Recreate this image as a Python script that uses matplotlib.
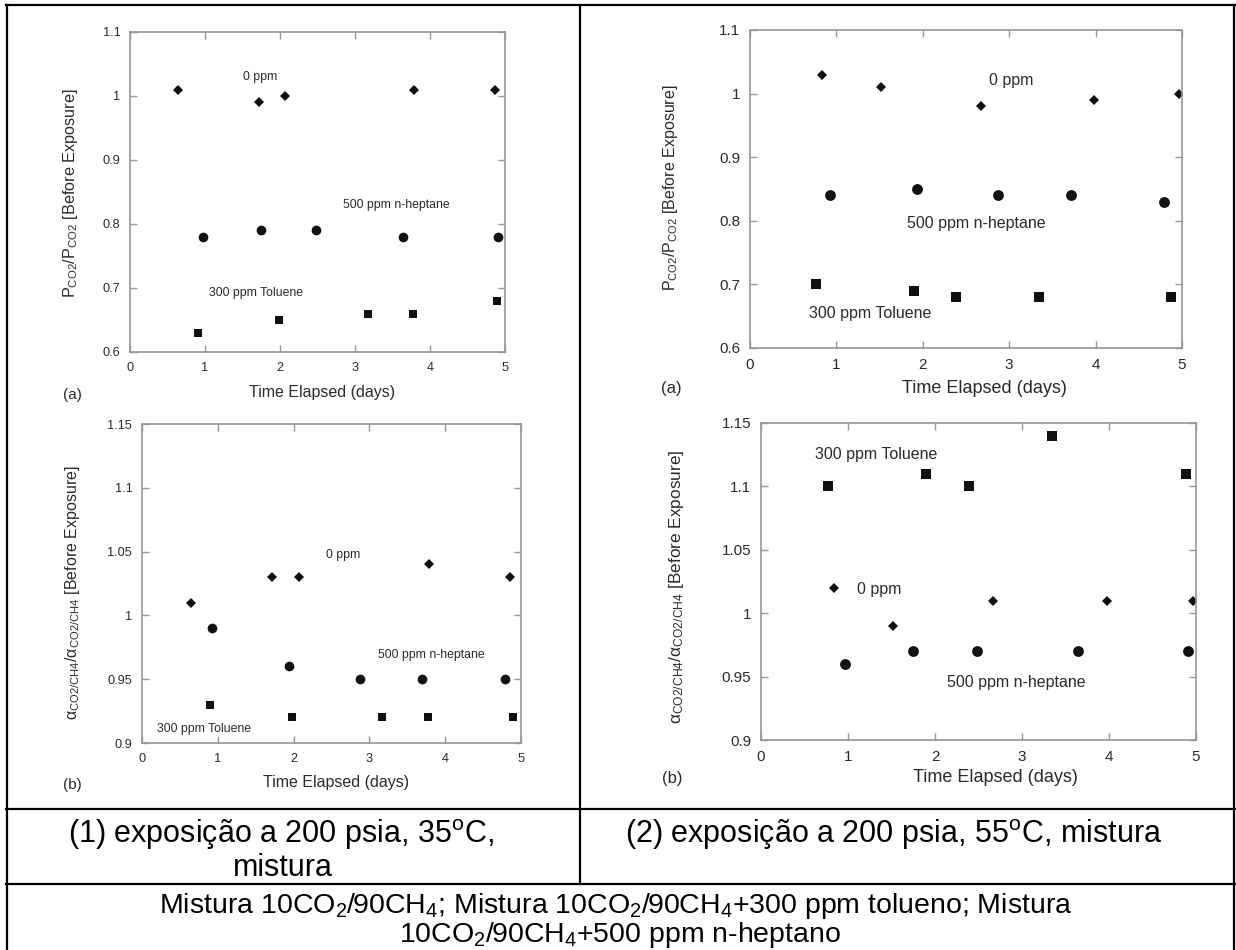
import matplotlib
matplotlib.use("Agg")
import matplotlib.pyplot as plt
from matplotlib.lines import Line2D

plt.rcParams["font.family"] = ["Liberation Sans", "DejaVu Sans"]
plt.rcParams["mathtext.fontset"] = "custom"
plt.rcParams["mathtext.rm"] = "Liberation Sans"
plt.rcParams["mathtext.it"] = "Liberation Sans:italic"

W, H = 1236, 950

# -----------------------------
# Data
# -----------------------------
# (1) 200 psia, 35 C - permeance ratio
p35_x_0ppm = [0.64, 1.72, 2.06, 3.78, 4.86]
p35_y_0ppm = [1.01, 0.99, 1.00, 1.01, 1.01]
p35_x_hep = [0.97, 1.75, 2.48, 3.64, 4.91]
p35_y_hep = [0.78, 0.79, 0.79, 0.78, 0.78]
p35_x_tol = [0.90, 1.99, 3.17, 3.77, 4.89]
p35_y_tol = [0.63, 0.65, 0.66, 0.66, 0.68]

# (2) 200 psia, 55 C - permeance ratio
p55_x_0ppm = [0.83, 1.52, 2.67, 3.98, 4.97]
p55_y_0ppm = [1.03, 1.01, 0.98, 0.99, 1.00]
p55_x_hep = [0.93, 1.93, 2.87, 3.71, 4.79]
p55_y_hep = [0.84, 0.85, 0.84, 0.84, 0.83]
p55_x_tol = [0.76, 1.90, 2.38, 3.34, 4.87]
p55_y_tol = [0.70, 0.69, 0.68, 0.68, 0.68]

# (1) 35 C - selectivity ratio
a35_x_0ppm = [0.64, 1.71, 2.07, 3.78, 4.86]
a35_y_0ppm = [1.01, 1.03, 1.03, 1.04, 1.03]
a35_x_hep = [0.93, 1.94, 2.87, 3.70, 4.79]
a35_y_hep = [0.99, 0.96, 0.95, 0.95, 0.95]
a35_x_tol = [0.90, 1.98, 3.16, 3.77, 4.89]
a35_y_tol = [0.93, 0.92, 0.92, 0.92, 0.92]

# (2) 55 C - selectivity ratio
a55_x_0ppm = [0.84, 1.52, 2.67, 3.98, 4.97]
a55_y_0ppm = [1.02, 0.99, 1.01, 1.01, 1.01]
a55_x_hep = [0.96, 1.75, 2.48, 3.64, 4.91]
a55_y_hep = [0.96, 0.97, 0.97, 0.97, 0.97]
a55_x_tol = [0.77, 1.90, 2.39, 3.34, 4.88]
a55_y_tol = [1.10, 1.11, 1.10, 1.14, 1.11]

x_ticks = [0, 1, 2, 3, 4, 5]
x_ticklabels = ["0", "1", "2", "3", "4", "5"]
p_ticks = [0.6, 0.7, 0.8, 0.9, 1.0, 1.1]
p_ticklabels = ["0.6", "0.7", "0.8", "0.9", "1", "1.1"]
a_ticks = [0.9, 0.95, 1.0, 1.05, 1.1, 1.15]
a_ticklabels = ["0.9", "0.95", "1", "1.05", "1.1", "1.15"]

lbl_0ppm = "0 ppm"
lbl_hep = "500 ppm n-heptane"
lbl_tol = "300 ppm Toluene"

ylabel_p = r"P$_{\mathrm{CO2}}$/P$_{\mathrm{CO2}}$ [Before Exposure]"
ylabel_a = r"α$_{\mathrm{CO2/CH4}}$/α$_{\mathrm{CO2/CH4}}$ [Before Exposure]"
xlabel = "Time Elapsed (days)"

caption1 = "(1) exposição a 200 psia, 35$^{\\mathrm{o}}$C,"
caption1b = "mistura"
caption2 = "(2) exposição a 200 psia, 55$^{\\mathrm{o}}$C, mistura"
footer1 = ("Mistura 10CO$_2$/90CH$_4$; Mistura 10CO$_2$/90CH$_4$+300 ppm tolueno; "
           "Mistura")
footer2 = "10CO$_2$/90CH$_4$+500 ppm n-heptano"


def fx(x):
    return x / W


def fy(y):
    return 1 - y / H


def rect(x0, y0, x1, y1):
    return [x0 / W, 1 - y1 / H, (x1 - x0) / W, (y1 - y0) / H]


fig = plt.figure(figsize=(W / 100, H / 100), dpi=100)
fig.patch.set_facecolor("white")

SPINE = "#969696"
TXT = "#2a2a2a"
MK = "#111111"


def panel(box, series, ylim, yticks, yticklabels, notes, fs_tick, fs_note):
    ax = fig.add_axes(rect(*box))
    for (xs, ys, marker, size) in series:
        ax.plot(xs, ys, linestyle="none", marker=marker, color=MK,
                markersize=size, markeredgewidth=0)
    ax.set_xlim(0, 5)
    ax.set_ylim(*ylim)
    ax.set_xticks(x_ticks, x_ticklabels)
    ax.set_yticks(yticks, yticklabels)
    ax.tick_params(direction="in", length=5, width=1, color=SPINE,
                   top=True, right=True, labelsize=fs_tick, labelcolor=TXT,
                   pad=7)
    for s in ax.spines.values():
        s.set_color(SPINE)
        s.set_linewidth(1.2)
    for (tx, ty, txt) in notes:
        ax.text(tx, ty, txt, ha="center", va="center", fontsize=fs_note,
                color=TXT)
    return ax


# -----------------------------
# Panel (1a)
# -----------------------------
panel((130, 32, 505, 352),
      [(p35_x_0ppm, p35_y_0ppm, "D", 5.0),
       (p35_x_hep, p35_y_hep, "o", 7.0),
       (p35_x_tol, p35_y_tol, "s", 6.3)],
      (0.6, 1.1), p_ticks, p_ticklabels,
      [(1.73, 1.03, lbl_0ppm), (3.55, 0.829, lbl_hep), (1.68, 0.692, lbl_tol)],
      fs_tick=9.2, fs_note=8.8)

# -----------------------------
# Panel (2a)
# -----------------------------
panel((750, 30, 1182, 348),
      [(p55_x_0ppm, p55_y_0ppm, "D", 5.0),
       (p55_x_hep, p55_y_hep, "o", 7.8),
       (p55_x_tol, p55_y_tol, "s", 7.0)],
      (0.6, 1.1), p_ticks, p_ticklabels,
      [(3.02, 1.02, lbl_0ppm), (2.62, 0.796, lbl_hep), (1.39, 0.654, lbl_tol)],
      fs_tick=11, fs_note=11.5)

# -----------------------------
# Panel (1b)
# -----------------------------
panel((142, 424, 521, 743),
      [(a35_x_0ppm, a35_y_0ppm, "D", 5.0),
       (a35_x_hep, a35_y_hep, "o", 7.0),
       (a35_x_tol, a35_y_tol, "s", 6.3)],
      (0.9, 1.15), a_ticks, a_ticklabels,
      [(2.66, 1.047, lbl_0ppm), (3.82, 0.969, lbl_hep), (0.82, 0.911, lbl_tol)],
      fs_tick=9.2, fs_note=8.8)

# -----------------------------
# Panel (2b)
# -----------------------------
panel((761, 423, 1196, 740),
      [(a55_x_0ppm, a55_y_0ppm, "D", 5.0),
       (a55_x_hep, a55_y_hep, "o", 7.8),
       (a55_x_tol, a55_y_tol, "s", 7.0)],
      (0.9, 1.15), a_ticks, a_ticklabels,
      [(1.36, 1.019, lbl_0ppm), (2.93, 0.945, lbl_hep), (1.32, 1.1255, lbl_tol)],
      fs_tick=11, fs_note=11.5)

# -----------------------------
# Axis titles and panel letters
# -----------------------------
fig.text(fx(322), fy(393), xlabel, ha="center", va="center", fontsize=11.5,
         color=TXT)
fig.text(fx(984), fy(388), xlabel, ha="center", va="center", fontsize=13,
         color=TXT)
fig.text(fx(336), fy(783), xlabel, ha="center", va="center", fontsize=11.5,
         color=TXT)
fig.text(fx(995), fy(778), xlabel, ha="center", va="center", fontsize=13,
         color=TXT)

fig.text(fx(71), fy(193), ylabel_p, ha="center", va="center", rotation=90,
         fontsize=11.7, color=TXT)
fig.text(fx(670), fy(188), ylabel_p, ha="center", va="center", rotation=90,
         fontsize=11.5, color=TXT)
fig.text(fx(72), fy(593), ylabel_a, ha="center", va="center", rotation=90,
         fontsize=11.5, color=TXT)
fig.text(fx(677), fy(587), ylabel_a, ha="center", va="center", rotation=90,
         fontsize=12.4, color=TXT)

fig.text(fx(72), fy(395), "(a)", ha="center", va="center", fontsize=11,
         color=TXT)
fig.text(fx(671), fy(388), "(a)", ha="center", va="center", fontsize=12,
         color=TXT)
fig.text(fx(72), fy(785), "(b)", ha="center", va="center", fontsize=11,
         color=TXT)
fig.text(fx(672), fy(778), "(b)", ha="center", va="center", fontsize=12,
         color=TXT)

# -----------------------------
# Table frame and captions
# -----------------------------
lw = 1.6
frame = [
    ((6, 1235), (5, 5)),
    ((7, 7), (5, 950)),
    ((1234, 1234), (5, 950)),
    ((580, 580), (5, 884)),
    ((6, 1235), (809, 809)),
    ((6, 1235), (884, 884)),
]
for xs, ys in frame:
    fig.add_artist(Line2D([fx(x) for x in xs], [fy(y) for y in ys],
                          color="black", linewidth=lw))

fig.text(fx(281), fy(843), caption1, ha="center", va="baseline", fontsize=22)
fig.text(fx(283), fy(876), caption1b, ha="center", va="baseline", fontsize=22)
fig.text(fx(894), fy(843), caption2, ha="center", va="baseline", fontsize=22)
fig.text(fx(616), fy(913), footer1, ha="center", va="baseline", fontsize=20.5)
fig.text(fx(620), fy(942), footer2, ha="center", va="baseline", fontsize=20.5)

fig.savefig("out.png", dpi=100)
